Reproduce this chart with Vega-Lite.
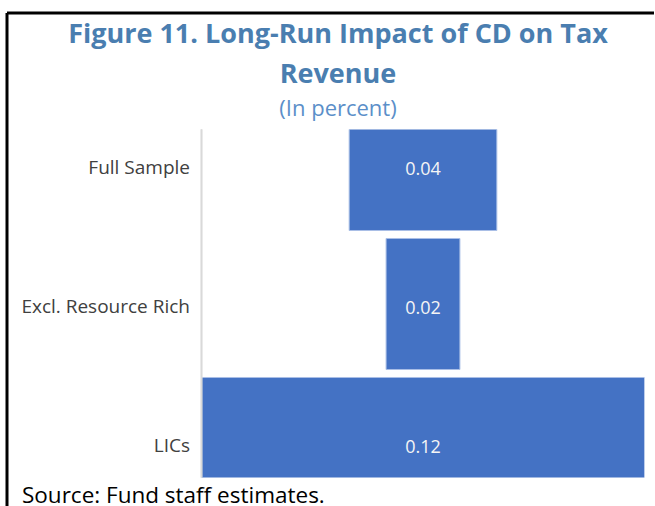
{
  "$schema": "https://vega.github.io/schema/vega-lite/v6.json",
  "width": 443,
  "height": 348,
  "padding": {"left": 6.5, "top": 12.5, "right": 0, "bottom": 0},
  "background": "white",
  "config": {"view": {"stroke": null}, "font": "Open Sans"},
  "title": {
    "text": ["Figure 11. Long-Run Impact of CD on Tax", "Revenue"],
    "subtitle": "(In percent)",
    "anchor": "middle",
    "frame": "group",
    "dx": -85,
    "offset": -108,
    "font": "Open Sans",
    "fontSize": 27,
    "fontWeight": "bold",
    "color": "#4a7eb0",
    "lineHeight": 40,
    "subtitleFont": "Open Sans",
    "subtitleFontSize": 22,
    "subtitleColor": "#5b8fc9",
    "subtitlePadding": 10
  },
  "data": {
    "values": [
      {"cat": "Full Sample", "v": 0.04},
      {"cat": "Excl. Resource Rich", "v": 0.02},
      {"cat": "LICs", "v": 0.12}
    ]
  },
  "resolve": {"axis": {"x": "independent", "y": "independent"}},
  "layer": [
    {
      "mark": {"type": "bar", "color": "#4472c4", "stroke": "#a9bfe6", "strokeWidth": 1, "clip": true},
      "encoding": {
        "x": {
          "field": "v", "type": "quantitative", "stack": "center",
          "scale": {"domain": [-0.052822, 0.122438], "range": [-195, 452], "nice": false, "zero": false},
          "axis": {"orient": "top", "offset": 117, "domainColor": "black", "domainWidth": 3, "labels": false, "ticks": false, "grid": false, "title": null}
        },
        "y": {
          "field": "cat", "type": "nominal", "sort": null,
          "scale": {"range": [-117, 383], "paddingInner": 0.05755, "paddingOuter": 0.32734, "align": 0.956, "round": false},
          "axis": {"orient": "left", "offset": 195, "domainColor": "black", "domainWidth": 3, "labels": false, "ticks": false, "grid": false, "title": null}
        }
      }
    },
    {
      "mark": {"type": "rule", "color": "#d9d9d9", "strokeWidth": 1.5},
      "encoding": {
        "x": {"datum": 0, "type": "quantitative", "axis": null}
      }
    },
    {
      "mark": {"type": "text", "color": "#f5f5f5", "fontSize": 18, "font": "Open Sans", "baseline": "middle", "align": "center", "dy": 5},
      "encoding": {
        "x": {
          "datum": 0.06, "type": "quantitative",
          "axis": {"orient": "bottom", "domain": false, "labels": false, "ticks": false, "grid": false,
            "title": "Source: Fund staff estimates.", "titleX": -180, "titleY": 25, "titleAlign": "left", "titleAnchor": "start",
            "titleBaseline": "alphabetic", "titleFont": "Open Sans", "titleFontSize": 22.5, "titleFontWeight": "normal", "titleColor": "black"}
        },
        "y": {
          "field": "cat", "type": "nominal", "sort": null,
          "axis": {"orient": "left", "domain": false, "ticks": false, "grid": false, "title": null, "labelOffset": 3,
            "labelFont": "Open Sans", "labelFontSize": 19, "labelColor": "#404040", "labelPadding": 12, "labelLimit": 300}
        },
        "text": {"field": "v", "type": "quantitative", "format": ".2f"}
      }
    }
  ]
}
